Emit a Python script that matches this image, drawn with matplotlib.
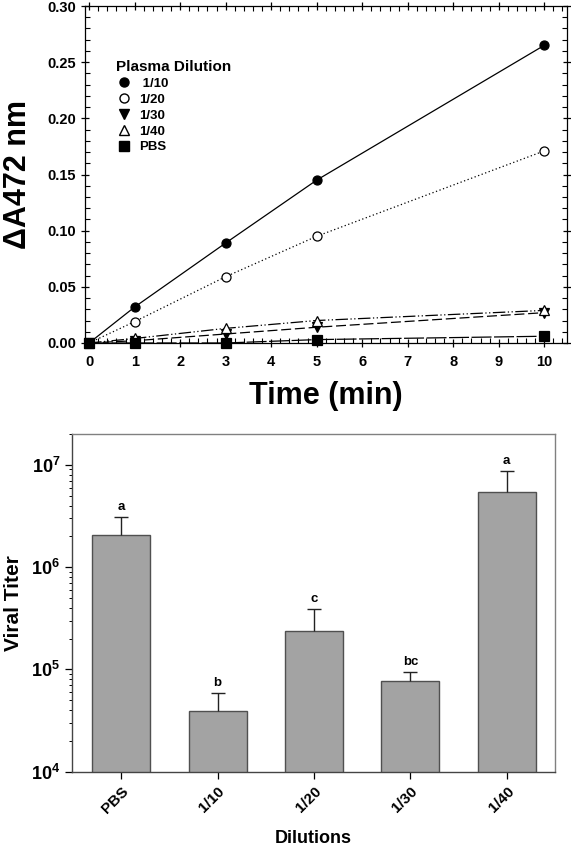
import matplotlib
matplotlib.use("Agg")
import matplotlib.pyplot as plt
import numpy as np
from matplotlib.lines import Line2D
from matplotlib.ticker import MultipleLocator, LogLocator, FixedLocator, NullFormatter, FuncFormatter

plt.rcParams['font.family'] = ['Liberation Sans', 'DejaVu Sans']
plt.rcParams['font.weight'] = 'bold'
plt.rcParams['mathtext.fontset'] = 'custom'
plt.rcParams['mathtext.rm'] = 'Liberation Sans:bold'
plt.rcParams['mathtext.bf'] = 'Liberation Sans:bold'
plt.rcParams['mathtext.it'] = 'Liberation Sans:bold'

# ---- Top chart data ----
time_min = [0, 1, 3, 5, 10]
series_labels = [" 1/10", "1/20", "1/30", "1/40", "PBS"]
dA_1_10 = [0.0, 0.032, 0.089, 0.145, 0.265]
dA_1_20 = [0.0, 0.019, 0.059, 0.095, 0.171]
dA_1_30 = [0.0, 0.002, 0.008, 0.014, 0.027]
dA_1_40 = [0.0, 0.004, 0.013, 0.020, 0.029]
dA_PBS = [0.0, 0.0, 0.0, 0.003, 0.006]

# ---- Bottom chart data ----
dilutions = ["PBS", "1/10", "1/20", "1/30", "1/40"]
viral_titer = [2.06e6, 3.9e4, 2.37e5, 7.7e4, 5.4e6]
titer_err = [1.05e6, 2.0e4, 1.55e5, 1.7e4, 3.35e6]
sig_letters = ["a", "b", "c", "bc", "a"]

fig = plt.figure(figsize=(5.71, 8.50), dpi=100)

# ---------------- Top axes ----------------
ax1 = fig.add_axes([0.1489, 0.5965, 0.8441, 0.3964])
series = [dA_1_10, dA_1_20, dA_1_30, dA_1_40, dA_PBS]
markers = ['o', 'o', 'v', '^', 's']
faces = ['black', 'white', 'black', 'white', 'black']
styles = ['-', (0, (1, 2)), (0, (8, 3)), (0, (10, 2, 1, 2, 1, 2)), (0, (16, 2))]
handles = []
for ys, mk, fc, ls, lab in zip(series, markers, faces, styles, series_labels):
    ax1.plot(time_min, ys, linestyle=ls, color='black', lw=0.9,
             marker=mk, markerfacecolor=fc, markeredgecolor='black',
             markersize=6.5, markeredgewidth=0.9, zorder=3, clip_on=False)
    handles.append(Line2D([], [], linestyle='none', marker=mk, markerfacecolor=fc,
                          markeredgecolor='black', markersize=6.5, label=lab))

ax1.set_xlim(-0.09, 10.5)
ax1.set_ylim(0, 0.30)
ax1.xaxis.set_major_locator(MultipleLocator(1))
ax1.xaxis.set_minor_locator(MultipleLocator(0.2))
ax1.yaxis.set_major_locator(MultipleLocator(0.05))
ax1.yaxis.set_minor_locator(MultipleLocator(0.01))
ax1.yaxis.set_major_formatter(FuncFormatter(lambda v, p: f"{v:.2f}"))
ax1.tick_params(axis='both', which='major', direction='inout', length=6, width=0.9,
                labelsize=10.5, top=True, right=True)
ax1.tick_params(axis='both', which='minor', direction='in', length=3.5, width=0.8,
                top=True, right=True)
ax1.tick_params(axis='x', which='major', pad=6)
for s in ax1.spines.values():
    s.set_linewidth(0.9)
for lab in ax1.get_xticklabels() + ax1.get_yticklabels():
    lab.set_fontweight('bold')
ax1.set_xlabel("Time (min)", fontsize=22, fontweight='bold', labelpad=8)
ax1.set_ylabel("ΔA472 nm", fontsize=22, fontweight='bold', labelpad=10)

leg = ax1.legend(handles=handles, title="Plasma Dilution", loc='upper left',
                 bbox_to_anchor=(0.05, 0.86), frameon=False, fontsize=9.5,
                 title_fontproperties={'weight': 'bold', 'size': 11},
                 handlelength=1.2, handletextpad=0.6, labelspacing=0.28,
                 borderpad=0, alignment='left')
for t in leg.get_texts():
    t.set_fontweight('bold')

# ---------------- Bottom axes ----------------
ax2 = fig.add_axes([0.1261, 0.0921, 0.8459, 0.3973])
x = np.arange(len(dilutions))
ax2.bar(x, viral_titer, width=0.6, color='#a3a3a3', edgecolor='#505050',
        linewidth=1.0, zorder=2)
eb = ax2.errorbar(x, viral_titer, yerr=[np.zeros(len(x)), titer_err], fmt='none',
                  ecolor='#222222', elinewidth=1.0, capsize=5, capthick=1.0, zorder=3)
eb[1][0].set_visible(False)  # hide the lower caps (only upward error shown)
for xi, v, e, s in zip(x, viral_titer, titer_err, sig_letters):
    ax2.annotate(s, (xi, v + e), xytext=(0, 3), textcoords='offset points',
                 ha='center', va='bottom', fontsize=9.5, fontweight='bold')

ax2.set_yscale('log')
ax2.set_ylim(1e4, 2e7)
ax2.set_xlim(-0.51, 4.5)
ax2.set_xticks(x)
ax2.set_xticklabels(dilutions, rotation=45, ha='right', rotation_mode='anchor',
                    fontsize=11, fontweight='bold')
ax2.yaxis.set_major_locator(LogLocator(base=10, numticks=10))
ax2.yaxis.set_minor_locator(LogLocator(base=10, subs=np.arange(2, 10), numticks=10))
ax2.yaxis.set_minor_formatter(NullFormatter())
ax2.yaxis.set_major_formatter(FuncFormatter(lambda v, p: r"$\mathbf{10^{%d}}$" % round(np.log10(v))))
ax2.tick_params(axis='y', which='major', direction='out', length=5, width=0.9,
                labelsize=13, right=False)
ax2.tick_params(axis='y', which='minor', direction='out', length=2.5, width=0.7,
                right=False)
ax2.tick_params(axis='x', which='major', direction='out', length=5, width=0.9,
                top=False, pad=4)
for name in ['left', 'bottom']:
    ax2.spines[name].set_color('#444444')
for name in ['top', 'right']:
    ax2.spines[name].set_color('#808080')
for s in ax2.spines.values():
    s.set_linewidth(1.0)
ax2.set_xlabel("Dilutions", fontsize=13, fontweight='bold', labelpad=10)
ax2.set_ylabel("Viral Titer", fontsize=15, fontweight='bold', labelpad=6)

fig.savefig("out.png", dpi=100)
